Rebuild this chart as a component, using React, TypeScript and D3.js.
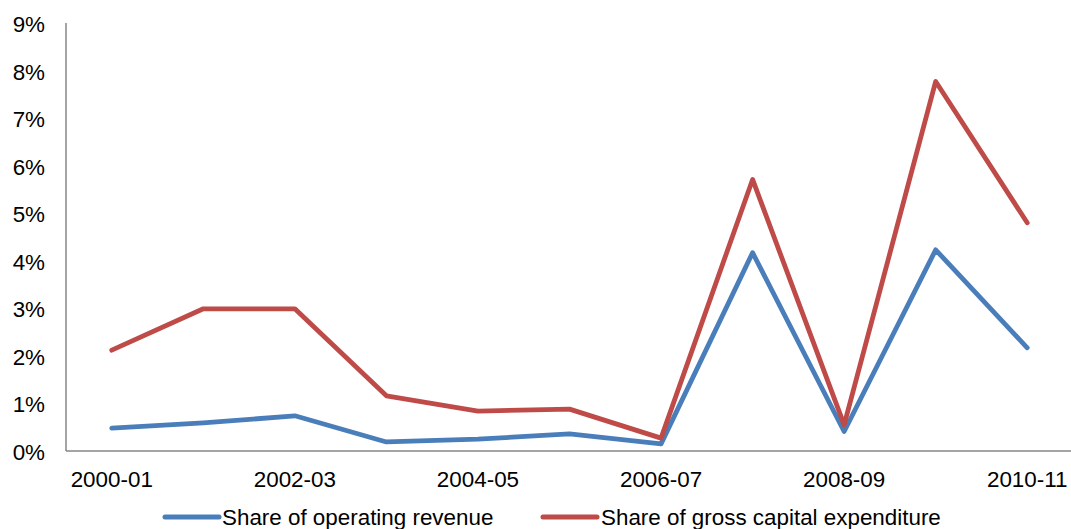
import React from "react";
import * as d3 from "d3";

const categories = ["2000-01","2001-02","2002-03","2003-04","2004-05","2005-06","2006-07","2007-08","2008-09","2009-10","2010-11"];
const tickLabels = ["2000-01","2002-03","2004-05","2006-07","2008-09","2010-11"];
const operatingRevenue = [0.48,0.59,0.74,0.19,0.25,0.36,0.15,4.17,0.41,4.23,2.17];
const grossCapex = [2.12,2.99,2.99,1.16,0.84,0.88,0.27,5.71,0.55,7.77,4.8];
const yTicks = [0,1,2,3,4,5,6,7,8,9];
const seriesNames = ["Share of operating revenue","Share of gross capital expenditure"];
const colors = ["#4A7EBB","#BE4B48"];

export default function App() {
  const W = 1071, H = 529;
  const left = 66, right = 1073, top = 23, bottom = 451;
  const x = d3.scaleBand<string>().domain(categories).range([left, right]);
  const y = d3.scaleLinear().domain([0, 9]).range([bottom, top]);
  const line = d3.line<number>()
    .x((_, i) => (x(categories[i]) as number) + x.bandwidth() / 2)
    .y((d) => y(d));
  const font = "Liberation Sans, Arial, sans-serif";
  const fs = 22.4;
  const series = [operatingRevenue, grossCapex];
  return (
    <svg width={W} height={H} style={{ position: "absolute", left: 0, top: 0, background: "#fff" }}>
      <line x1={left} x2={left} y1={top} y2={bottom} stroke="#868686" strokeWidth={1.5} />
      <line x1={left} x2={right} y1={bottom} y2={bottom} stroke="#868686" strokeWidth={1.5} />
      {yTicks.map((t) => (
        <text key={t} x={45} y={y(t) + 1.5} textAnchor="end" dominantBaseline="central" fontFamily={font} fontSize={fs} fill="#000">
          {t}%
        </text>
      ))}
      {tickLabels.map((c) => (
        <text key={c} x={(x(c) as number) + x.bandwidth() / 2} y={479} textAnchor="middle" dominantBaseline="central" fontFamily={font} fontSize={fs} fill="#000">
          {c}
        </text>
      ))}
      {series.map((s, i) => (
        <path key={i} d={line(s) || ""} fill="none" stroke={colors[i]} strokeWidth={4.8} strokeLinejoin="round" strokeLinecap="round" />
      ))}
      {[{ x0: 165, tx: 222 }, { x0: 543, tx: 601 }].map((p, i) => (
        <g key={i}>
          <line x1={p.x0} x2={p.x0 + 54} y1={517} y2={517} stroke={colors[i]} strokeWidth={5} strokeLinecap="round" />
          <text x={p.tx} y={517} dominantBaseline="central" fontFamily={font} fontSize={fs} fill="#000">
            {seriesNames[i]}
          </text>
        </g>
      ))}
    </svg>
  );
}
